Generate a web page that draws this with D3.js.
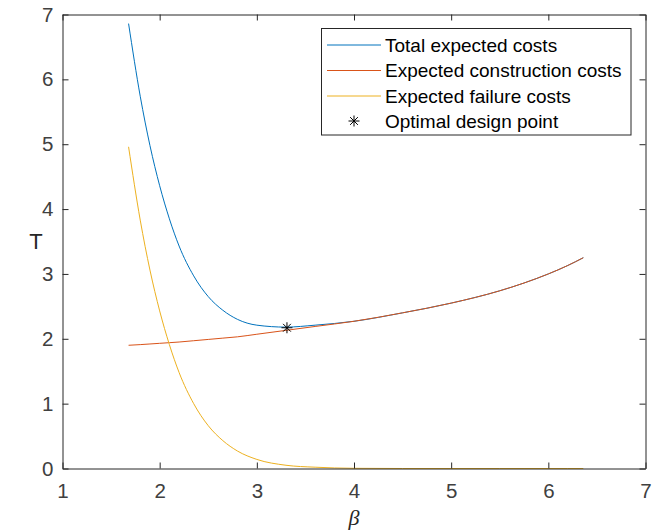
<!DOCTYPE html>
<html>
<head>
<meta charset="utf-8">
<script src="https://cdn.jsdelivr.net/npm/d3@7"></script>
<style>
  html, body { margin: 0; padding: 0; background: #fff; }
  svg { display: block; }
</style>
</head>
<body>
<svg id="chart" width="657" height="532"></svg>
<script>
// Reliability index samples (beta) and cost curves
const beta = [1.68, 1.8, 1.9, 2.0, 2.1, 2.2, 2.35, 2.5, 2.65, 2.8, 3.0, 3.3, 3.6, 4.0, 4.5, 5.0, 5.5, 5.75, 6.0, 6.2, 6.36];
const constructionCost = [1.90, 1.91, 1.92, 1.93, 1.94, 1.95, 1.97, 1.99, 2.01, 2.03, 2.07, 2.13, 2.19, 2.27, 2.40, 2.55, 2.74, 2.86, 3.00, 3.13, 3.25];
const failureCost = [4.96, 3.83, 3.06, 2.43, 1.91, 1.48, 1.00, 0.66, 0.43, 0.27, 0.14, 0.05, 0.02, 0.003, 0, 0, 0, 0, 0, 0, 0];
const totalCost = [6.86, 5.74, 4.98, 4.36, 3.85, 3.43, 2.97, 2.65, 2.44, 2.30, 2.21, 2.18, 2.21, 2.27, 2.40, 2.55, 2.74, 2.86, 3.00, 3.13, 3.25];
const optimum = [{ beta: 3.31, cost: 2.17 }];

const xTicks = [1, 2, 3, 4, 5, 6, 7];
const yTicks = [0, 1, 2, 3, 4, 5, 6, 7];

const seriesNames = ["Total expected costs", "Expected construction costs", "Expected failure costs"];
const seriesColors = ["#0072BD", "#D95319", "#EDB120"];
const seriesValues = [totalCost, constructionCost, failureCost];
const optimumLabel = "Optimal design point";

const svg = d3.select("#chart");
const axisColor = "#262626";
const labelColor = "#404040";

const x = d3.scaleLinear().domain([1, 7]).range([62.5, 645.5]);
const y = d3.scaleLinear().domain([0, 7]).range([468.5, 14.5]);

// Curves
const line = d3.line()
  .x(d => x(d[0]))
  .y(d => y(d[1]))
  .curve(d3.curveMonotoneX);

seriesValues.forEach((vals, i) => {
  svg.append("path")
    .datum(beta.map((b, j) => [b, vals[j]]))
    .attr("fill", "none")
    .attr("stroke", seriesColors[i])
    .attr("stroke-width", 1)
    .attr("d", line);
});

// Asterisk marker
function asterisk(sel, r) {
  const d = r * Math.SQRT1_2;
  sel.append("path")
    .attr("d", `M${-r},0L${r},0M0,${-r}L0,${r}M${-d},${-d}L${d},${d}M${-d},${d}L${d},${-d}`)
    .attr("stroke", "#000")
    .attr("stroke-width", 1)
    .attr("fill", "none");
}

svg.selectAll("g.opt")
  .data(optimum)
  .join("g")
  .attr("class", "opt")
  .attr("transform", d => `translate(${x(d.beta)},${y(d.cost)})`)
  .each(function () { asterisk(d3.select(this), 5.5); });

// Axes (box with inward ticks on all sides)
function styleAxis(g) {
  g.selectAll("path.domain").attr("stroke", axisColor).attr("stroke-width", 1);
  g.selectAll(".tick line").attr("stroke", axisColor).attr("stroke-width", 1);
  g.selectAll(".tick text")
    .attr("fill", labelColor)
    .attr("font-family", "'Liberation Sans', Arial, Helvetica, sans-serif")
    .attr("font-size", 20.5);
}

svg.append("g")
  .attr("transform", `translate(0,${y(0)})`)
  .call(d3.axisBottom(x).tickValues(xTicks).tickFormat(d3.format("d")).tickSizeInner(-6).tickSizeOuter(0).tickPadding(15))
  .call(styleAxis);

svg.append("g")
  .attr("transform", `translate(0,${y(7)})`)
  .call(d3.axisTop(x).tickValues(xTicks).tickFormat("").tickSizeInner(-6).tickSizeOuter(0))
  .call(styleAxis);

svg.append("g")
  .attr("transform", `translate(${x(1)},0)`)
  .call(d3.axisLeft(y).tickValues(yTicks).tickFormat(d3.format("d")).tickSizeInner(-6).tickSizeOuter(0).tickPadding(9))
  .call(styleAxis);

svg.append("g")
  .attr("transform", `translate(${x(7)},0)`)
  .call(d3.axisRight(y).tickValues(yTicks).tickFormat("").tickSizeInner(-6).tickSizeOuter(0))
  .call(styleAxis);

// Axis titles
svg.append("text")
  .attr("x", (x(1) + x(7)) / 2)
  .attr("y", 525)
  .attr("text-anchor", "middle")
  .attr("font-family", "'Liberation Serif', 'Times New Roman', serif")
  .attr("font-style", "italic")
  .attr("font-size", 22)
  .attr("fill", axisColor)
  .text("β");

svg.append("text")
  .attr("x", 36)
  .attr("y", 249)
  .attr("text-anchor", "middle")
  .attr("font-family", "'Liberation Sans', Arial, Helvetica, sans-serif")
  .attr("font-size", 22)
  .attr("fill", axisColor)
  .text("T");

// Legend
const legend = svg.append("g");
legend.append("rect")
  .attr("x", 321.5).attr("y", 28.5)
  .attr("width", 309.5).attr("height", 106.5)
  .attr("fill", "#fff")
  .attr("stroke", axisColor)
  .attr("stroke-width", 1);

const rowY = [45, 70.5, 96, 121];
const fontFam = "'Liberation Sans', Arial, Helvetica, sans-serif";

seriesNames.forEach((name, i) => {
  legend.append("line")
    .attr("x1", 327).attr("x2", 381)
    .attr("y1", rowY[i]).attr("y2", rowY[i])
    .attr("stroke", seriesColors[i]).attr("stroke-width", 1);
  legend.append("text")
    .attr("x", 385).attr("y", rowY[i]).attr("dy", "0.35em")
    .attr("font-family", fontFam).attr("font-size", 19)
    .attr("fill", "#000")
    .text(name);
});

const legStar = legend.append("g").attr("transform", `translate(354,${rowY[3]})`);
asterisk(legStar, 5.5);
legend.append("text")
  .attr("x", 385).attr("y", rowY[3]).attr("dy", "0.35em")
  .attr("font-family", fontFam).attr("font-size", 19)
  .attr("fill", "#000")
  .text(optimumLabel);
</script>
</body>
</html>
